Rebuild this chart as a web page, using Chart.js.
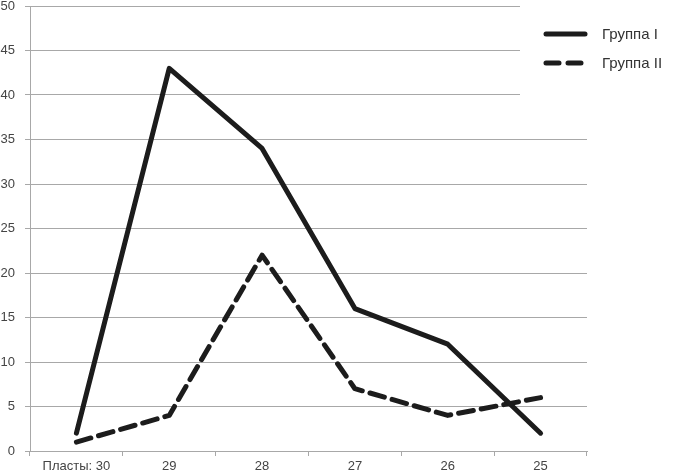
<!DOCTYPE html>
<html>
<head>
<meta charset="utf-8">
<script src="https://cdn.jsdelivr.net/npm/chart.js@4"></script>
<style>
  html, body { margin: 0; padding: 0; background: #fff; }
  #wrap { width: 680px; height: 476px; }
</style>
</head>
<body>
<div id="wrap"><canvas id="plastChart"></canvas></div>
<script>
// layers (x axis) and counts per group
const layers = ["Пласты: 30", "29", "28", "27", "26", "25"];
const group1 = [2, 43, 34, 16, 12, 2];
const group2 = [1, 4, 22, 7, 4, 6];
const seriesNames = ["Группа I", "Группа II"];
const yTicks = [0, 5, 10, 15, 20, 25, 30, 35, 40, 45, 50];

const ink = "#1c1c1c";
const dash = [15, 8];
const fontFam = "'Liberation Sans', Arial, sans-serif";

// legend drawn inside the plot, over a white patch like in the original
const cornerLegend = {
  id: "cornerLegend",
  afterDatasetsDraw(chart) {
    const ctx = chart.ctx;
    const area = chart.chartArea;
    ctx.save();
    ctx.fillStyle = "#fff";
    ctx.fillRect(520, 0, area.right - 520 + 2, 128);
    const items = [
      { name: seriesNames[0], y: 34, dashed: false },
      { name: seriesNames[1], y: 63, dashed: true }
    ];
    items.forEach(it => {
      ctx.beginPath();
      ctx.lineWidth = 5;
      ctx.strokeStyle = ink;
      ctx.lineCap = "round";
      ctx.setLineDash(it.dashed ? [13, 9] : []);
      ctx.moveTo(546, it.y);
      ctx.lineTo(585, it.y);
      ctx.stroke();
      ctx.setLineDash([]);
      ctx.fillStyle = "#333";
      ctx.font = "15px " + fontFam;
      ctx.textBaseline = "middle";
      ctx.fillText(it.name, 602, it.y + 1);
    });
    ctx.restore();
  }
};

const ctx = document.getElementById("plastChart").getContext("2d");
new Chart(ctx, {
  type: "line",
  data: {
    labels: layers,
    datasets: [
      {
        label: seriesNames[0],
        data: group1,
        borderColor: ink,
        borderWidth: 5,
        borderCapStyle: "round",
        borderJoinStyle: "round",
        pointRadius: 0,
        tension: 0
      },
      {
        label: seriesNames[1],
        data: group2,
        borderColor: ink,
        borderWidth: 5,
        borderDash: dash,
        borderCapStyle: "round",
        borderJoinStyle: "round",
        pointRadius: 0,
        tension: 0
      }
    ]
  },
  options: {
    responsive: true,
    maintainAspectRatio: false,
    animation: false,
    layout: { padding: { top: 6, right: 93, left: 0, bottom: 0 } },
    plugins: {
      legend: { display: false },
      tooltip: { enabled: false }
    },
    scales: {
      x: {
        offset: true,
        grid: {
          offset: true,
          drawOnChartArea: false,
          color: "#a8a8a8",
          tickLength: 5
        },
        border: { color: "#a8a8a8", width: 1 },
        ticks: {
          color: "#444",
          maxRotation: 0,
          padding: 3,
          font: { family: fontFam, size: 13 }
        },
        afterFit: s => { s.height = 25; }
      },
      y: {
        min: 0,
        max: 50,
        afterBuildTicks: s => { s.ticks = yTicks.map(v => ({ value: v })); },
        grid: {
          color: "#a8a8a8",
          lineWidth: 1,
          tickLength: 5
        },
        border: { color: "#a8a8a8", width: 1 },
        ticks: {
          color: "#444",
          padding: 10,
          font: { family: fontFam, size: 13 }
        },
        afterFit: s => { s.width = 30; s.paddingTop = 0; s.paddingBottom = 0; }
      }
    }
  },
  plugins: [cornerLegend]
});
</script>
</body>
</html>
